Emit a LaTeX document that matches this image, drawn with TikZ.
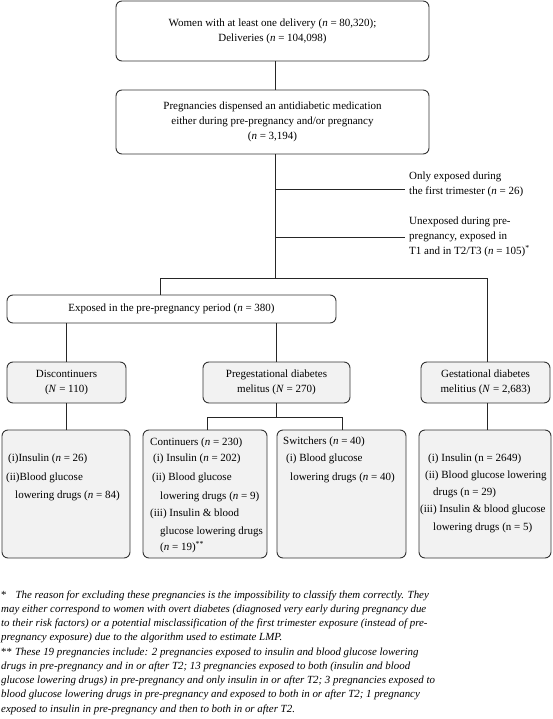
\documentclass[tikz,border=0pt]{standalone}
\usepackage{fontspec}
\setmainfont{Liberation Serif}
\newcommand\bxfont{\fontsize{11}{15}\selectfont}
\newcommand\ftfont{\fontsize{10.9}{14}\selectfont\itshape}
\begin{document}
\begin{tikzpicture}[x=1pt,y=-1pt,
  box/.style={draw=black!80, line width=0.9pt, rounded corners=6pt, inner sep=0pt, align=center, font=\bxfont, fill=white},
  gbox/.style={box, fill=black!5},
  conn/.style={draw=black!85, line width=0.8pt},
  lab/.style={inner sep=0pt, align=left, anchor=west, font=\bxfont},
  t4/.style={inner sep=0pt, anchor=base west, font=\bxfont},
  fn/.style={inner sep=0pt, anchor=base west, font=\ftfont}]
\useasboundingbox (0,0) rectangle (552,719);

% top boxes
\node[box, minimum width=313pt, minimum height=60pt] (b1) at (272.5,31)
  {Women with at least one delivery (\textit{n} = 80,320);\\ Deliveries (\textit{n} = 104,098)};
\node[box, minimum width=313pt, minimum height=64pt] (b2) at (272.5,122)
  {Pregnancies dispensed an antidiabetic medication\\ either during pre-pregnancy and/or pregnancy\\ (\textit{n} = 3,194)};

\coordinate (j0) at (275,278);
\coordinate (j1) at (275,189);
\coordinate (j2) at (275,237);
\coordinate (jl) at (160,278);
\coordinate (jr) at (487,278);

\node[lab, inner xsep=4pt] (l1) at (405,184.5) {Only exposed during\\ the first trimester (\textit{n} = 26)};
\node[lab, inner xsep=4pt] (l2) at (405,237) {Unexposed during pre-\\ pregnancy, exposed in\\ T1 and in T2/T3 (\textit{n} = 105)\textsuperscript{*}};

\draw[conn] (b1.south -| j0) -- (b2.north -| j0);
\draw[conn] (b2.south -| j0) -- (j0);
\draw[conn] (j1) -- (j1 -| l1.west);
\draw[conn] (j2) -- (j2 -| l2.west);

% exposed
\node[box, minimum width=329pt, minimum height=28pt] (exp) at (171.5,309)
  {Exposed in the pre-pregnancy period (\textit{n} = 380)};

% row 3
\node[gbox, minimum width=119pt, minimum height=41pt] (disc) at (66.5,382.5)
  {Discontinuers\\ (\textit{N} = 110)};
\node[gbox, minimum width=147pt, minimum height=41pt] (preg) at (276.5,382.5)
  {Pregestational diabetes\\ melitus (\textit{N} = 270)};
\node[gbox, minimum width=129pt, minimum height=41pt] (gest) at (485.5,382.5)
  {Gestational diabetes\\ melitius (\textit{N} = 2,683)};

\draw[conn] (jl) -- (jr);
\draw[conn] (jl) -- (jl |- exp.north);
\draw[conn] (jr) -- (jr |- gest.north);
\draw[conn] (exp.south -| disc) -- (disc.north);
\draw[conn] (exp.south -| preg) -- (preg.north);

% row 4
\node[gbox, minimum width=128pt, minimum height=128pt] (ba) at (66,494) {};
\node[gbox, minimum width=124pt, minimum height=128pt] (bb) at (205,494) {};
\node[gbox, minimum width=129pt, minimum height=128pt] (bc) at (341.5,494) {};
\node[gbox, minimum width=132pt, minimum height=128pt] (bd) at (485,494) {};

\coordinate (js) at (276.5,417);
\coordinate (jsl) at (207,417);
\coordinate (jsr) at (342,417);
\draw[conn] (disc.south) -- (disc.south |- ba.north);
\draw[conn] (preg.south) -- (js);
\draw[conn] (jsl) -- (jsr);
\draw[conn] (jsl) -- (jsl |- bb.north);
\draw[conn] (jsr) -- (jsr |- bc.north);
\draw[conn] (gest.south -| jr) -- (jr |- bd.north);

% texts row 4
\node[t4] (a1) at (8,461) {(i)Insulin (\textit{n} = 26)};
\node[t4] (a2) at (6,480) {(ii)Blood glucose};
\node[t4] (a3) at (15,498) {lowering drugs (\textit{n} = 84)};

\node[t4] (c1) at (150,445) {Continuers (\textit{n} = 230)};
\node[t4] (c2) at (153,461) {(i) Insulin (\textit{n} = 202)};
\node[t4] (c3) at (152,480) {(ii) Blood glucose};
\node[t4] (c4) at (160,499) {lowering drugs (\textit{n} = 9)};
\node[t4] (c5) at (150,516) {(iii) Insulin \& blood};
\node[t4] (c6) at (160,534) {glucose lowering drugs};
\node[t4] (c7) at (160,550) {(\textit{n} = 19)\textsuperscript{**}};

\node[t4] (s1) at (283,444) {Switchers (\textit{n} = 40)};
\node[t4] (s2) at (286,461) {(i) Blood glucose};
\node[t4] (s3) at (290,480) {lowering drugs (\textit{n} = 40)};

\node[t4] (g1) at (428,461) {(i) Insulin (n = 2649)};
\node[t4] (g2) at (425,478) {(ii) Blood glucose lowering};
\node[t4] (g3) at (433,495) {drugs (n = 29)};
\node[t4] (g4) at (420,512) {(iii) Insulin \& blood glucose};
\node[t4] (g5) at (433,530) {lowering drugs (n = 5)};

% footnotes
\node[fn] (f1) at (1,598) {\upshape *\hspace{9pt}\itshape The reason for excluding these pregnancies is the impossibility to classify them correctly. They};
\node[fn] (f2) at (1,612.25) {may either correspond to women with overt diabetes (diagnosed very early during pregnancy due};
\node[fn] (f3) at (1,626.5) {to their risk factors) or a potential misclassification of the first trimester exposure (instead of pre-};
\node[fn] (f4) at (1,640.75) {pregnancy exposure) due to the algorithm used to estimate LMP.};
\node[fn] (f5) at (1,655) {\upshape **\hspace{3pt}\itshape These 19 pregnancies include: 2 pregnancies exposed to insulin and blood glucose lowering};
\node[fn] (f6) at (1,669.25) {drugs in pre-pregnancy and in or after T2; 13 pregnancies exposed to both (insulin and blood};
\node[fn] (f7) at (1,683.5) {glucose lowering drugs) in pre-pregnancy and only insulin in or after T2; 3 pregnancies exposed to};
\node[fn] (f8) at (1,697.75) {blood glucose lowering drugs in pre-pregnancy and exposed to both in or after T2; 1 pregnancy};
\node[fn] (f9) at (1,712) {exposed to insulin in pre-pregnancy and then to both in or after T2.};
\end{tikzpicture}
\end{document}
